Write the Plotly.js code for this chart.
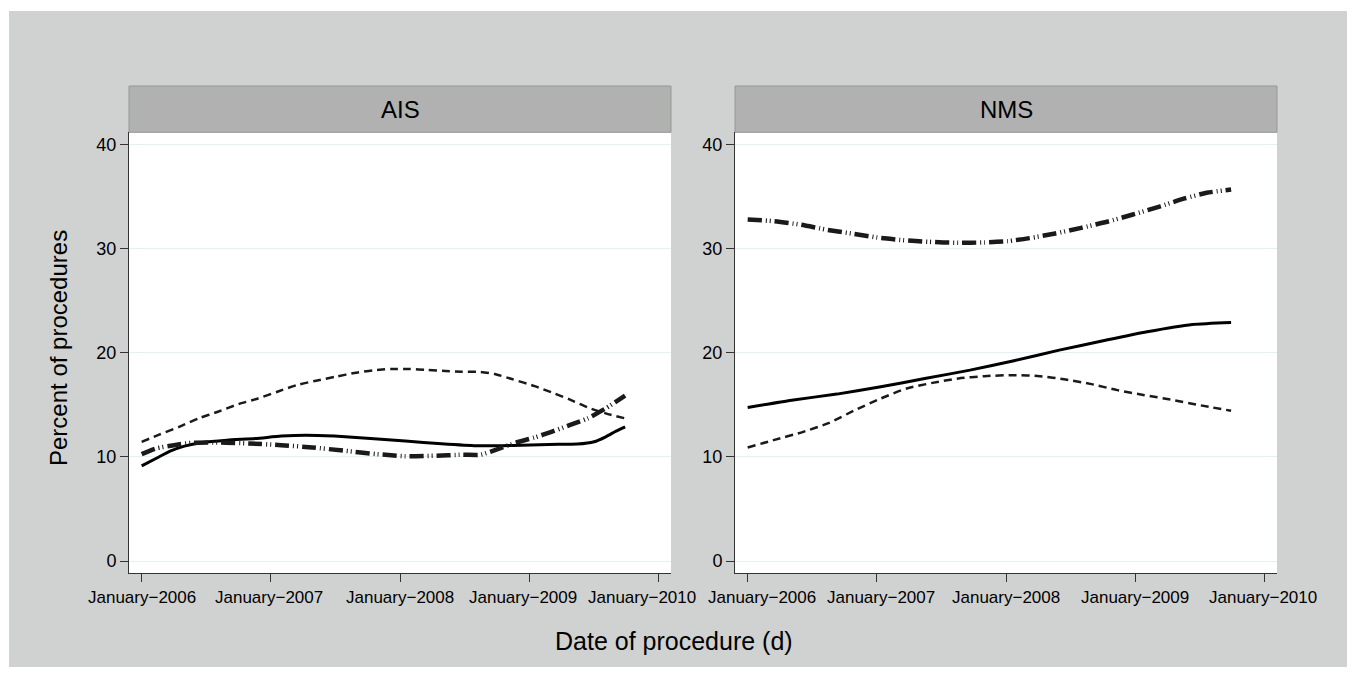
<!DOCTYPE html>
<html>
<head>
<meta charset="utf-8">
<script src="https://cdn.plot.ly/plotly-3.0.1.min.js"></script>
<style>html,body{margin:0;padding:0;background:#fff;}</style>
</head>
<body>
<div id="chart" style="width:1356px;height:678px;"></div>
<script>
// ---- Data (decimal year of procedure, percent of procedures) ----
var panels = ["AIS", "NMS"];
var yTicks = [0, 10, 20, 30, 40];
var xTickYears = [2006, 2007, 2008, 2009, 2010];
var xTickText = ["January\u22122006", "January\u22122007", "January\u22122008", "January\u22122009", "January\u22122010"];

// AIS panel
var aisSolidX = [2006.0, 2006.11, 2006.22, 2006.33, 2006.47, 2006.66, 2006.88, 2007.08, 2007.27, 2007.49, 2007.77, 2008.04, 2008.32, 2008.59, 2008.87, 2009.15, 2009.37, 2009.50, 2009.59, 2009.67, 2009.74];
var aisSolidY = [9.13, 9.84, 10.54, 11.03, 11.38, 11.6, 11.76, 11.99, 12.08, 11.99, 11.76, 11.51, 11.25, 11.06, 11.09, 11.19, 11.22, 11.44, 11.92, 12.47, 12.88];

var aisDashX = [2006.0, 2006.14, 2006.29, 2006.44, 2006.59, 2006.75, 2006.90, 2007.05, 2007.20, 2007.35, 2007.50, 2007.66, 2007.79, 2007.93, 2008.07, 2008.21, 2008.35, 2008.48, 2008.62, 2008.73, 2008.87, 2009.04, 2009.17, 2009.31, 2009.45, 2009.59, 2009.74];
var aisDashY = [11.44, 12.15, 12.88, 13.69, 14.33, 15.06, 15.6, 16.25, 16.89, 17.31, 17.69, 18.08, 18.3, 18.43, 18.43, 18.33, 18.24, 18.17, 18.14, 17.95, 17.44, 16.79, 16.19, 15.51, 14.74, 14.17, 13.69];

var aisDashDotX = [2006.0, 2006.11, 2006.25, 2006.39, 2006.61, 2006.83, 2007.08, 2007.32, 2007.57, 2007.82, 2008.04, 2008.26, 2008.48, 2008.62, 2008.76, 2008.90, 2009.04, 2009.17, 2009.31, 2009.45, 2009.59, 2009.74];
var aisDashDotY = [10.26, 10.8, 11.12, 11.35, 11.38, 11.28, 11.12, 10.9, 10.58, 10.26, 10.06, 10.1, 10.2, 10.2, 10.77, 11.38, 11.86, 12.4, 13.04, 13.69, 14.65, 15.87];

// NMS panel
var nmsSolidX = [2006.0, 2006.34, 2006.69, 2007.03, 2007.37, 2007.72, 2008.06, 2008.41, 2008.75, 2009.09, 2009.44, 2009.74];
var nmsSolidY = [14.74, 15.44, 16.02, 16.72, 17.52, 18.32, 19.22, 20.24, 21.14, 22.0, 22.7, 22.9];

var nmsDashX = [2006.0, 2006.2, 2006.43, 2006.63, 2006.83, 2007.03, 2007.23, 2007.43, 2007.63, 2007.83, 2008.06, 2008.26, 2008.46, 2008.66, 2008.86, 2009.07, 2009.27, 2009.47, 2009.74];
var nmsDashY = [10.9, 11.6, 12.4, 13.26, 14.48, 15.6, 16.56, 17.1, 17.52, 17.74, 17.84, 17.74, 17.42, 16.98, 16.4, 15.92, 15.5, 15.02, 14.42];

var nmsDashDotX = [2006.0, 2006.2, 2006.4, 2006.6, 2006.8, 2007.0, 2007.2, 2007.4, 2007.63, 2007.83, 2008.01, 2008.18, 2008.38, 2008.58, 2008.78, 2008.98, 2009.18, 2009.38, 2009.55, 2009.74];
var nmsDashDotY = [32.78, 32.62, 32.3, 31.82, 31.44, 31.06, 30.8, 30.64, 30.54, 30.58, 30.7, 30.99, 31.44, 31.98, 32.56, 33.26, 34.0, 34.8, 35.34, 35.66];

// ---- Styles ----
var FONT = "Liberation Sans, Arial, Helvetica, sans-serif";
var solidLine = {color: "#000000", width: 3, shape: "spline", smoothing: 0.6};
var dashLine = {color: "#1a1a1a", width: 2.5, dash: "8px,5px", shape: "spline", smoothing: 0.6};
var dashDotLine = {color: "#1a1a1a", width: 4.5, dash: "14px,4px,1px,3px,1px,4px", shape: "spline", smoothing: 0.6};
// horizontal nudges of x tick labels (Stata moves crowded labels apart)
var tickShiftLeft = [0, -2, 0, -6, -17];
var tickShiftRight = [14, 4, 0, 0, -2];

function tr(x, y, line, xa, ya, name) {
  return {x: x, y: y, type: "scatter", mode: "lines", line: line, xaxis: xa, yaxis: ya, name: name, hoverinfo: "x+y"};
}

var data = [
  tr(aisSolidX, aisSolidY, solidLine, "x", "y", "AIS solid"),
  tr(aisDashX, aisDashY, dashLine, "x", "y", "AIS dashed"),
  tr(aisDashDotX, aisDashDotY, dashDotLine, "x", "y", "AIS dash-dot"),
  tr(nmsSolidX, nmsSolidY, solidLine, "x2", "y2", "NMS solid"),
  tr(nmsDashX, nmsDashY, dashLine, "x2", "y2", "NMS dashed"),
  tr(nmsDashDotX, nmsDashDotY, dashDotLine, "x2", "y2", "NMS dash-dot")
];

var W = 1356, H = 678;
var yDom = [1 - 573.3 / H, 1 - 132.3 / H];
var xDom1 = [129 / W, 671 / W];
var xDom2 = [735 / W, 1277 / W];
var xRange = [2005.902, 2010.095];
var yRange = [-1.18, 41.15];

function xax(dom, anchor) {
  return {
    domain: dom, anchor: anchor, range: xRange, type: "linear",
    tickmode: "array", tickvals: xTickYears, ticktext: xTickText, showticklabels: false,
    showgrid: false, zeroline: false, showline: true, linecolor: "#333333", linewidth: 1,
    ticks: "outside", ticklen: 8, tickwidth: 1, tickcolor: "#333333", fixedrange: true
  };
}
function yax(anchor) {
  return {
    domain: yDom, anchor: anchor, range: yRange,
    tickmode: "array", tickvals: yTicks,
    showgrid: true, gridcolor: "#e6f0f2", gridwidth: 1,
    zeroline: false, showline: true, linecolor: "#333333", linewidth: 1,
    ticks: "outside", ticklen: 8, tickwidth: 1, tickcolor: "#333333",
    tickfont: {family: FONT, size: 18, color: "#000000"}, fixedrange: true
  };
}

var headerY0 = 1 - 132.3 / H, headerY1 = 1 - 86 / H;

var annotations = [
  {text: panels[0], xref: "x domain", yref: "paper", x: 0.5, y: (headerY0 + headerY1) / 2,
   xanchor: "center", yanchor: "middle", showarrow: false, font: {family: FONT, size: 24, color: "#000000"}},
  {text: panels[1], xref: "x2 domain", yref: "paper", x: 0.5, y: (headerY0 + headerY1) / 2,
   xanchor: "center", yanchor: "middle", showarrow: false, font: {family: FONT, size: 24, color: "#000000"}},
  {text: "Percent of procedures", xref: "paper", yref: "paper", x: 58 / W, y: 1 - 348 / H, textangle: -90,
   xanchor: "center", yanchor: "middle", showarrow: false, font: {family: FONT, size: 24, color: "#000000"}},
  {text: "Date of procedure (d)", xref: "paper", yref: "paper", x: 674 / W, y: 1 - 641 / H,
   xanchor: "center", yanchor: "middle", showarrow: false, font: {family: FONT, size: 25, color: "#000000"}}
];
// x tick labels, positioned on each axis' own scale
xTickYears.forEach(function (yr, j) {
  annotations.push({text: xTickText[j], xref: "x", yref: "paper", x: yr, y: 1 - 597 / H, xshift: tickShiftLeft[j],
    xanchor: "center", yanchor: "middle", showarrow: false, font: {family: FONT, size: 17, color: "#000000"}});
  annotations.push({text: xTickText[j], xref: "x2", yref: "paper", x: yr, y: 1 - 597 / H, xshift: tickShiftRight[j],
    xanchor: "center", yanchor: "middle", showarrow: false, font: {family: FONT, size: 17, color: "#000000"}});
});

var layout = {
  width: W, height: H, autosize: false,
  margin: {l: 0, r: 0, t: 0, b: 0, pad: 0},
  paper_bgcolor: "#ffffff", plot_bgcolor: "#ffffff",
  showlegend: false,
  font: {family: FONT, color: "#000000"},
  xaxis: xax(xDom1, "y"),
  yaxis: yax("x"),
  xaxis2: xax(xDom2, "y2"),
  yaxis2: yax("x2"),
  shapes: [
    {type: "rect", xref: "paper", yref: "paper", x0: 9 / W, x1: 1347 / W, y0: 1 - 667 / H, y1: 1 - 11 / H,
     fillcolor: "#d0d2d1", line: {width: 0}, layer: "below"},
    {type: "rect", xref: "x domain", yref: "y domain", x0: 0, x1: 1, y0: 0, y1: 1,
     fillcolor: "#ffffff", line: {width: 0}, layer: "below"},
    {type: "rect", xref: "x2 domain", yref: "y2 domain", x0: 0, x1: 1, y0: 0, y1: 1,
     fillcolor: "#ffffff", line: {width: 0}, layer: "below"},
    {type: "rect", xref: "x domain", yref: "paper", x0: 0, x1: 1, y0: headerY0, y1: headerY1,
     fillcolor: "#b0b1b0", line: {width: 1, color: "#979897"}, layer: "below"},
    {type: "rect", xref: "x2 domain", yref: "paper", x0: 0, x1: 1, y0: headerY0, y1: headerY1,
     fillcolor: "#b0b1b0", line: {width: 1, color: "#979897"}, layer: "below"}
  ],
  annotations: annotations
};

Plotly.newPlot("chart", data, layout, {displayModeBar: false, staticPlot: true});
</script>
</body>
</html>
